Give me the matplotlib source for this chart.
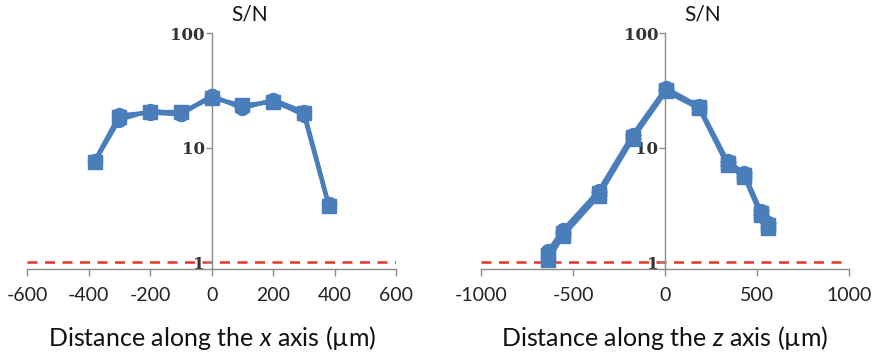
import matplotlib
matplotlib.use("Agg")
import matplotlib.pyplot as plt
import matplotlib.transforms as mtransforms

plt.rcParams["font.family"] = ["Lato", "DejaVu Sans"]
plt.rcParams["mathtext.fontset"] = "custom"
plt.rcParams["mathtext.rm"] = "Lato"
plt.rcParams["mathtext.it"] = "Lato:italic"

# ── Data ────────────────────────────────────────────────────────────────────
x_pos = [-380, -300, -200, -100, 0, 100, 200, 300, 380]
x_sn_a = [7.6, 17.5, 21.0, 19.8, 28.0, 22.5, 25.8, 19.2, 3.2]
x_sn_b = [7.5, 18.5, 20.5, 20.5, 27.0, 23.5, 25.0, 20.0, 3.1]
x_sn_c = [7.7, 19.2, 20.2, 19.5, 28.5, 22.0, 26.2, 20.5, 3.2]

z_pos = [-635, -555, -360, -175, 5, 185, 340, 430, 520, 560]
z_sn_a = [1.15, 1.8, 4.0, 12.5, 32.0, 22.5, 7.3, 5.8, 2.7, 2.1]
z_sn_b = [1.05, 1.7, 3.8, 12.0, 31.0, 22.0, 7.0, 5.6, 2.6, 2.0]
z_sn_c = [1.25, 1.9, 4.2, 13.0, 33.0, 23.0, 7.6, 6.0, 2.8, 2.2]
z_err = [0.15, 0.05, 0.1, 0.3, 0.8, 0.5, 0.2, 0.2, 0.1, 0.1]

x_ticks = [-600, -400, -200, 0, 200, 400, 600]
z_ticks = [-1000, -500, 0, 500, 1000]
y_ticks = [1, 10, 100]
threshold = 1

BLUE = "#4a7ebb"
GREY = "#8c8c8c"


def style_axis(ax, xlim, xticks, xlabel):
    ax.set_yscale("log")
    ax.set_xlim(*xlim)
    ax.set_ylim(0.87, 100)
    ax.axhline(threshold, color="#e8352a", lw=1.8, ls=(0, (4, 3)), zorder=1)
    for s in ("top", "right"):
        ax.spines[s].set_visible(False)
    ax.spines["left"].set_position(("data", 0))
    ax.spines["left"].set_color(GREY)
    ax.spines["bottom"].set_color(GREY)
    ax.spines["left"].set_linewidth(1.0)
    ax.spines["bottom"].set_linewidth(1.0)
    ax.set_xticks(xticks)
    ax.set_xticklabels([str(t) for t in xticks])
    ax.set_yticks(y_ticks)
    ax.set_yticklabels([str(t) for t in y_ticks], family="DejaVu Serif",
                       fontweight="bold", fontsize=12, color="#333333")
    ax.yaxis.set_minor_locator(matplotlib.ticker.NullLocator())
    ax.tick_params(axis="x", direction="out", length=5, width=1, color=GREY,
                   labelsize=14, pad=8, labelcolor="#222222")
    ax.tick_params(axis="y", direction="out", length=4, width=1, color=GREY, pad=1)
    ax.set_xlabel(xlabel, fontsize=18, labelpad=14, color="#111111")
    trans = mtransforms.blended_transform_factory(ax.transData, ax.transAxes)
    ax.annotate("S/N", xy=(0, 1), xycoords=trans, xytext=(14, 6),
                textcoords="offset points", ha="left", va="bottom",
                fontsize=15, color="#111111")
    ax.patch.set_alpha(0)


fig = plt.figure(figsize=(8.73, 3.56), dpi=100)
ax1 = fig.add_axes([0.031, 0.244, 0.423, 0.663])
ax2 = fig.add_axes([0.551, 0.244, 0.4215, 0.663])

for ys, mk in ((x_sn_a, "o"), (x_sn_b, "s"), (x_sn_c, "o")):
    ax1.plot(x_pos, ys, color=BLUE, lw=3, marker=mk, ms=10, zorder=3)
style_axis(ax1, (-600, 600), x_ticks, r"Distance along the $\mathit{x}$ axis (µm)")

ax2.errorbar(z_pos, z_sn_a, yerr=z_err, color=BLUE, lw=3, marker="s", ms=10,
             capsize=6, elinewidth=1.5, zorder=3)
for ys, mk in ((z_sn_b, "s"), (z_sn_c, "o")):
    ax2.plot(z_pos, ys, color=BLUE, lw=3, marker=mk, ms=10, zorder=3)
style_axis(ax2, (-1000, 1000), z_ticks, r"Distance along the $\mathit{z}$ axis (µm)")

fig.savefig("out.png", dpi=100)
plt.close()
